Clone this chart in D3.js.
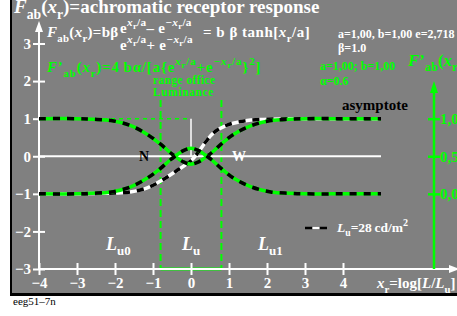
<!DOCTYPE html>
<html>
<head>
<meta charset="utf-8">
<script src="https://cdn.jsdelivr.net/npm/d3@7"></script>
<style>
  body { margin: 0; background: #fff; }
  svg { display: block; }
</style>
</head>
<body>
<svg id="chart" width="457" height="316"></svg>
<script>
// values
var xTicks = [-4, -3, -2, -1, 0, 1, 2, 3, 4];
var yTicks = [-3, -2, -1, 0, 1, 2, 3];
var rightTicks = [0, 0.5, 1];
var rightTickLabels = ['0,0', '0,5', '1,0'];

// green/black curve with the dip (N side)
var dipX = [-4, -3, -2.6, -2.1, -1.6, -1.15, -0.8, -0.55, -0.42, -0.2, 0, 0.2, 0.42, 0.55, 0.8, 1.15, 1.6, 2.1, 2.6, 3, 4, 5];
var dipY = [1, 1, 0.985, 0.95, 0.82, 0.58, 0.32, 0.1, 0, -0.15, -0.21, -0.15, 0, 0.1, 0.33, 0.6, 0.82, 0.95, 0.985, 1, 1, 1];
// green/black curve with the bump
var bumpX = [-4, -3, -2.6, -2.1, -1.6, -1.15, -0.8, -0.55, -0.42, -0.2, 0, 0.2, 0.42, 0.55, 0.8, 1.15, 1.6, 2.1, 2.6, 3, 4, 5];
var bumpY = [-1, -1, -0.985, -0.95, -0.82, -0.58, -0.32, -0.1, 0, 0.15, 0.21, 0.15, 0, -0.1, -0.33, -0.6, -0.82, -0.95, -0.985, -1, -1, -1];
// white/black curve
var whiteX = [-4, -3, -2.5, -2, -1.6, -1.15, -0.75, -0.4, 0, 0.2, 0.4, 0.6, 0.95, 1.4, 1.9, 2.5, 3, 4, 5];
var whiteY = [-1, -1, -0.99, -0.98, -0.95, -0.84, -0.63, -0.4, -0.12, 0.12, 0.4, 0.63, 0.83, 0.94, 0.98, 0.995, 1, 1, 1];

// office range of luminance (x_r)
var officeRange = [-0.8, 0.8];

var svg = d3.select('#chart');
var serif = "'Liberation Serif', 'Times New Roman', serif";
var green = '#00ff00';

var x = d3.scaleLinear().domain([-4, 5]).range([39, 381]);
var y = d3.scaleLinear().domain([-3, 3]).range([269, 43.5]);
var yR = d3.scaleLinear().domain([0, 1]).range([y(-1), y(1)]);

// background with black shadow on left / bottom
svg.append('rect').attr('x', 10).attr('y', 0).attr('width', 447).attr('height', 296).attr('fill', '#000');
svg.append('rect').attr('x', 12).attr('y', 0).attr('width', 445).attr('height', 293).attr('fill', '#808080');

// rich text helper: parts are [text, level, italic]; level 0 base, 'sub', 'sup', 'supsub'
function rich(px, py, size, color, parts, spacing) {
    var t = svg.append('text')
        .attr('x', px).attr('y', py)
        .attr('font-family', serif).attr('font-weight', 'bold')
        .attr('font-size', size).attr('fill', color)
        .attr('letter-spacing', spacing || 0);
    var cur = 0;
    parts.forEach(function(p) {
        var lvl = p[1] || 0, off = 0, fs = size;
        if (lvl === 'sub') { off = size * 0.3; fs = size * 0.72; }
        if (lvl === 'sup') { off = -size * 0.45; fs = size * 0.75; }
        if (lvl === 'supsub') { off = -size * 0.25; fs = size * 0.58; }
        t.append('tspan')
            .attr('dy', off - cur)
            .attr('font-size', fs)
            .attr('font-style', p[2] ? 'italic' : 'normal')
            .text(p[0]);
        cur = off;
    });
    return t;
}

// office range markers
svg.selectAll('.range').data(officeRange).enter().append('line')
    .attr('x1', d => x(d)).attr('x2', d => x(d))
    .attr('y1', 100).attr('y2', y(-3))
    .attr('stroke', green).attr('stroke-width', 2).attr('stroke-dasharray', '7,4');
svg.append('line')
    .attr('x1', x(officeRange[0])).attr('x2', x(officeRange[1]))
    .attr('y1', y(-3)).attr('y2', y(-3))
    .attr('stroke', green).attr('stroke-width', 3);

// marker of the point (0,1)
svg.append('line').attr('x1', x(-4)).attr('x2', x(0)).attr('y1', y(1)).attr('y2', y(1))
    .attr('stroke', green).attr('stroke-width', 1.5).attr('stroke-dasharray', '4,4');
svg.append('line').attr('x1', x(0)).attr('x2', x(0)).attr('y1', y(1)).attr('y2', y(0))
    .attr('stroke', '#fff').attr('stroke-width', 1.5);

// zero line
svg.append('line').attr('x1', x(-4)).attr('x2', x(5)).attr('y1', y(0)).attr('y2', y(0))
    .attr('stroke', '#fff').attr('stroke-width', 2);

// axes lines + arrows
svg.append('line').attr('x1', x(-4)).attr('x2', x(-4)).attr('y1', y(-3)).attr('y2', 26)
    .attr('stroke', '#fff').attr('stroke-width', 2);
svg.append('path').attr('d', 'M' + (x(-4) - 4) + ',32L' + x(-4) + ',21L' + (x(-4) + 4) + ',32Z').attr('fill', '#fff');
svg.append('line').attr('x1', x(-4)).attr('x2', 452).attr('y1', y(-3)).attr('y2', y(-3))
    .attr('stroke', '#fff').attr('stroke-width', 2);
svg.append('path').attr('d', 'M449,' + (y(-3) - 4) + 'L460,' + y(-3) + 'L449,' + (y(-3) + 4) + 'Z').attr('fill', '#fff');

var xAxisG = svg.append('g').attr('transform', 'translate(0,' + (y(-3) - 6) + ')')
    .call(d3.axisBottom(x).tickValues(xTicks).tickSize(12).tickPadding(2)
        .tickFormat(d => d < 0 ? '\u2212' + (-d) : d));
var yAxisG = svg.append('g').attr('transform', 'translate(' + (x(-4) + 6) + ',0)')
    .call(d3.axisLeft(y).tickValues(yTicks).tickSize(12).tickPadding(2)
        .tickFormat(d => d < 0 ? '\u2212' + (-d) : d));
[xAxisG, yAxisG].forEach(function(g) {
    g.select('.domain').remove();
    g.selectAll('line').attr('stroke', '#fff').attr('stroke-width', 2);
    g.selectAll('text').attr('fill', '#fff').attr('font-family', serif)
        .attr('font-weight', 'bold').attr('font-size', 15);
});

// right green axis for F'
var rx = 434;
svg.append('line').attr('x1', rx).attr('x2', rx).attr('y1', y(-3)).attr('y2', 88)
    .attr('stroke', green).attr('stroke-width', 2.5);
svg.append('path').attr('d', 'M' + (rx - 4) + ',93L' + rx + ',81L' + (rx + 4) + ',93Z').attr('fill', green);
var rAxisG = svg.append('g').attr('transform', 'translate(' + (rx - 6) + ',0)')
    .call(d3.axisRight(yR).tickValues(rightTicks).tickSize(12).tickPadding(0)
        .tickFormat((d, i) => rightTickLabels[i]));
rAxisG.select('.domain').remove();
rAxisG.selectAll('line').attr('stroke', green).attr('stroke-width', 2.5);
rAxisG.selectAll('text').attr('fill', green).attr('font-family', serif)
    .attr('font-weight', 'bold').attr('font-size', 15);

// curves
var line = d3.line().x(d => x(d[0])).y(d => y(d[1])).curve(d3.curveCatmullRom.alpha(0.5));
function drawDashed(xs, ys, c1) {
    var pts = xs.map((v, i) => [v, ys[i]]);
    svg.append('path').attr('d', line(pts)).attr('fill', 'none')
        .attr('stroke', c1).attr('stroke-width', 3.5);
    svg.append('path').attr('d', line(pts)).attr('fill', 'none')
        .attr('stroke', '#000').attr('stroke-width', 3.5).attr('stroke-dasharray', '7,7');
}
drawDashed(whiteX, whiteY, '#fff');
drawDashed(dipX, dipY, green);
drawDashed(bumpX, bumpY, green);

// titles and formulas
rich(14, 13, 19, '#fff', [['F', 0, true], ['ab', 'sub'], ['(', 0], ['x', 0, true], ['r', 'sub'], [')=achromatic receptor response', 0]]);

rich(47, 37, 15, '#fff', [['F', 0, true], ['ab', 'sub'], ['(', 0], ['x', 0, true], ['r', 'sub'], [')=b\u03b2', 0]], 0.3);
rich(120, 33, 15, '#fff', [['e', 0], ['x', 'sup', true], ['r', 'supsub'], ['/a', 'sup'], ['\u2013 e', 0], ['\u2212x', 'sup', true], ['r', 'supsub'], ['/a', 'sup']], 0.3);
rich(120, 50, 15, '#fff', [['e', 0], ['x', 'sup', true], ['r', 'supsub'], ['/a', 'sup'], ['+ e', 0], ['\u2212x', 'sup', true], ['r', 'supsub'], ['/a', 'sup']], 0.3);
rich(203, 37, 15, '#fff', [['= b \u03b2 tanh[', 0], ['x', 0, true], ['r', 'sub'], ['/a]', 0]], 0.5);

rich(47, 72, 15, green, [['F', 0, true], ['\u2019', 0], ['ab', 'sub'], ['(', 0], ['x', 0, true], ['r', 'sub'],
    [')=4\u2009b\u03b1/[a{e', 0], ['x', 'sup', true], ['r', 'supsub'], ['/a', 'sup'], ['+e', 0],
    ['\u2212x', 'sup', true], ['r', 'supsub'], ['/a', 'sup'], ['}', 0], ['2', 'sup'], [']', 0]], 0.8);

rich(153, 84, 11.5, green, [['range office', 0]], 0.4);
rich(153, 96, 11.5, green, [['Luminance', 0]], 0.6);

rich(338, 38, 12, '#fff', [['a=1,00, b=1,00 e=2,718', 0]]);
rich(338, 52, 12, '#fff', [['\u03b2=1.0', 0]]);
rich(320, 70, 12, green, [['a=1,00; b=1,00', 0]]);
rich(320, 85, 12, green, [['\u03b1=0.6', 0]]);
rich(408, 66, 17, green, [['F', 0, true], ['\u2019', 0], ['ab', 'sub'], ['(', 0], ['x', 0, true], ['r', 'sub'], [')', 0]]);

rich(342, 110, 15, '#000', [['asymptote', 0]]);
rich(139, 161, 14, '#000', [['N', 0]]);
rich(232, 161, 14, '#fff', [['W', 0]]);

// legend
var lg = [305, 312.3, 319.6, 327];
svg.append('line').attr('x1', lg[0]).attr('x2', lg[3]).attr('y1', 228).attr('y2', 228)
    .attr('stroke', '#000').attr('stroke-width', 2.5);
svg.append('line').attr('x1', lg[1]).attr('x2', lg[2]).attr('y1', 228).attr('y2', 228)
    .attr('stroke', '#fff').attr('stroke-width', 2.5);
rich(337, 232, 13.5, '#fff', [['L', 0, true], ['u', 'sub'], ['=28\u2009cd/m', 0], ['2', 'sup']]);

rich(106, 250, 18, '#fff', [['L', 0, true], ['u0', 'sub']]);
rich(182, 250, 18, '#fff', [['L', 0, true], ['u', 'sub']]);
rich(258, 250, 18, '#fff', [['L', 0, true], ['u1', 'sub']]);

rich(377, 288, 15, '#fff', [['x', 0, true], ['r', 'sub'], ['=log[', 0], ['L', 0, true], ['/', 0], ['L', 0, true], ['u', 'sub'], [']', 0]]);

svg.append('text').attr('x', 13).attr('y', 305).attr('font-family', serif)
    .attr('font-size', 11).attr('fill', '#000').text('eeg51\u20137n');
</script>
</body>
</html>
